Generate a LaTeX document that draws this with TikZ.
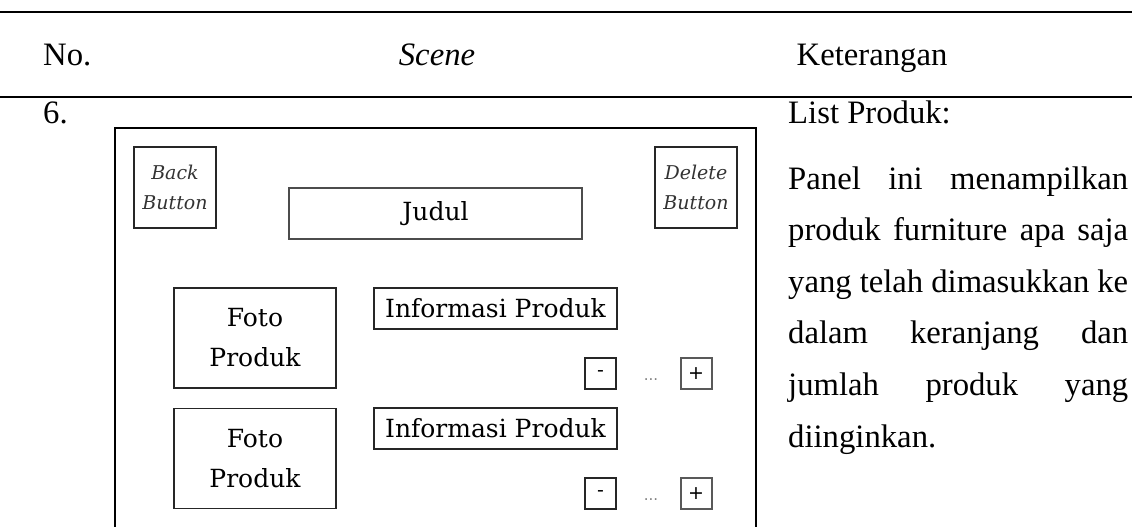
\documentclass[tikz,border=0pt]{standalone}
\usepackage{fontspec}
\setmainfont{Liberation Serif}
\newfontfamily\mockfont{DejaVu Serif}
\newfontfamily\signfont{DejaVu Sans}
\begin{document}
\begin{tikzpicture}[x=1pt,y=-1pt,
  tabletext/.style={inner sep=0pt, font=\fontsize{32.7}{40}\selectfont},
  mockbox/.style={draw=black!85, line width=1.6pt, inner sep=0pt,
    font=\mockfont\fontsize{25}{40}\selectfont, align=center},
  btnbox/.style={draw=black!85, line width=1.6pt, inner sep=0pt,
    minimum width=82pt, minimum height=81pt,
    font=\mockfont\itshape\fontsize{19}{30}\selectfont, align=center, text=black!80},
  qtybox/.style={draw=black!85, line width=1.4pt, minimum width=31pt,
    minimum height=31pt, inner sep=0pt, font=\signfont\fontsize{19}{19}\selectfont},
  dots/.style={inner sep=0pt, text=black!50, font=\signfont\fontsize{15}{15}\selectfont},
  rule/.style={line width=2pt}]
\useasboundingbox (0,0) rectangle (1132,527);

% table rules
\coordinate (r1w) at (0,12);  \coordinate (r1e) at (1132,12);
\coordinate (r2w) at (0,97);  \coordinate (r2e) at (1132,97);
\draw[rule] (r1w) -- (r1e);
\draw[rule] (r2w) -- (r2e);

% header row
\node[tabletext, anchor=base west] (hno) at (43,66) {No.};
\node[tabletext, anchor=base] (hscene) at (437,66) {\itshape Scene};
\node[tabletext, anchor=base] (hket) at (872,66) {Keterangan};

% first column and description
\node[tabletext, anchor=base west] (num) at (43,123) {6.};
\node[tabletext, anchor=base west] (desc0) at (788,123) {List Produk:};
\node[tabletext, anchor=base west] (desc1) at (788,189) {\hbox to 340pt{Panel\hfill ini\hfill menampilkan}};
\node[tabletext, anchor=base west] (desc2) at (788,240.6) {\hbox to 340pt{produk\hfill furniture\hfill apa\hfill saja}};
\node[tabletext, anchor=base west] (desc3) at (788,292.2) {\hbox to 340pt{yang\hfill telah\hfill dimasukkan\hfill ke}};
\node[tabletext, anchor=base west] (desc4) at (788,343.8) {\hbox to 340pt{dalam\hfill keranjang\hfill dan}};
\node[tabletext, anchor=base west] (desc5) at (788,395.4) {\hbox to 340pt{jumlah\hfill produk\hfill yang}};
\node[tabletext, anchor=base west] (desc6) at (788,447) {diinginkan.};

% screen frame
\coordinate (fbl) at (115,527); \coordinate (ftl) at (115,128);
\coordinate (ftr) at (756,128); \coordinate (fbr) at (756,527);
\draw[line width=2pt] (fbl) -- (ftl) -- (ftr) -- (fbr);

% top bar
\node[btnbox] (back) at (175,187.5) {Back\\Button};
\node[btnbox] (delete) at (696,187.5) {Delete\\Button};
\node[mockbox, draw=black!70, line width=2pt, minimum width=293pt, minimum height=51pt] (judul) at (435.5,213.5) {Judul};

% product rows
\node[mockbox, minimum width=162pt, minimum height=100pt] (foto1) at (255,338) {Foto\\Produk};
\node[mockbox, minimum width=243pt, minimum height=41pt] (info1) at (495.5,308.5) {Informasi Produk};
\node[qtybox] (minus1) at (600.5,373.5) {-};
\node[dots] (dots1) at (651,380) {...};
\node[qtybox, draw=black!65, line width=2pt] (plus1) at (696,373.5) {+};

\node[mockbox, minimum width=162pt, minimum height=100pt] (foto2) at (255,458.5) {Foto\\Produk};
\node[mockbox, minimum width=243pt, minimum height=41pt] (info2) at (495.5,428.5) {Informasi Produk};
\node[qtybox] (minus2) at (600.5,493.5) {-};
\node[dots] (dots2) at (651,500) {...};
\node[qtybox, draw=black!65, line width=2pt] (plus2) at (696,493.5) {+};
\end{tikzpicture}
\end{document}
